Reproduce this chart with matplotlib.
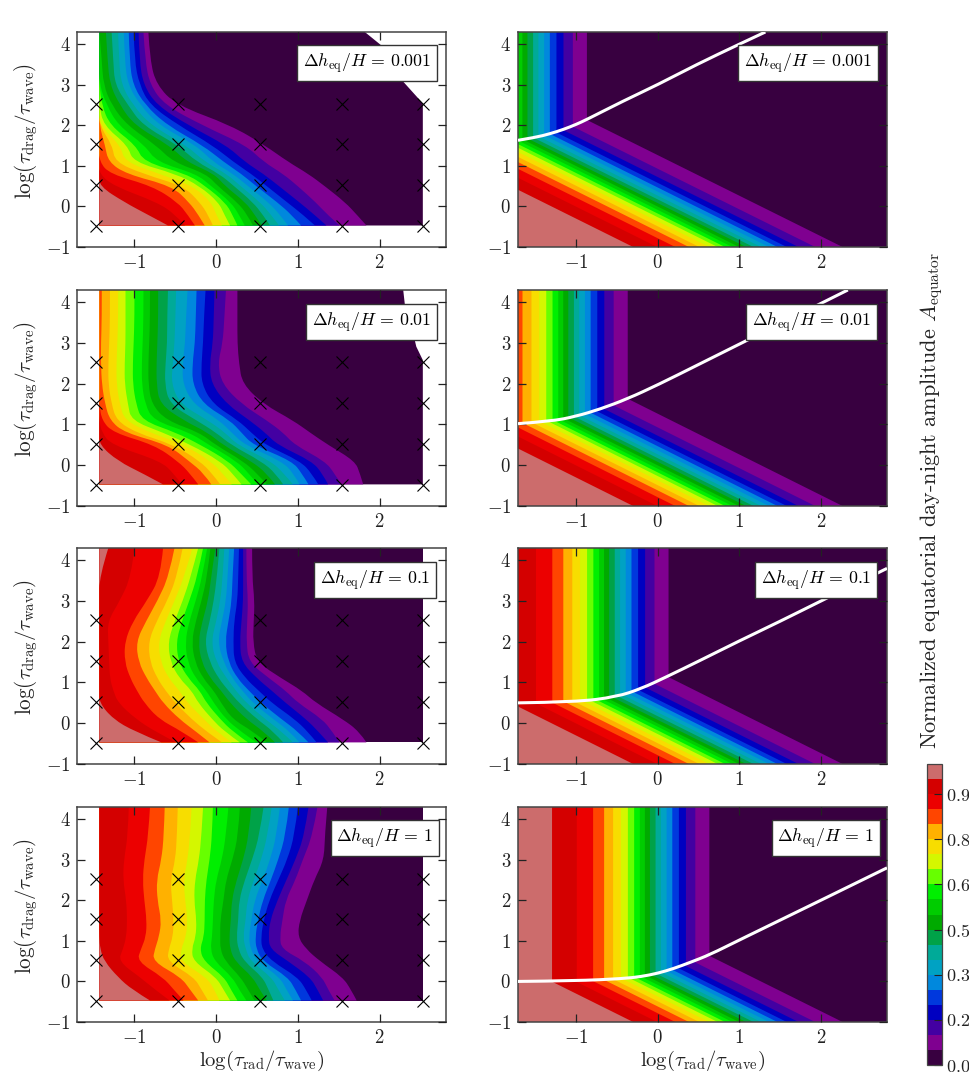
import numpy as np
import matplotlib
matplotlib.use('Agg')
import matplotlib.pyplot as plt
from matplotlib.cm import ScalarMappable
from matplotlib.colors import ListedColormap, BoundaryNorm
from matplotlib.path import Path
from matplotlib.patches import PathPatch

plt.rcParams['mathtext.fontset'] = 'cm'
plt.rcParams['font.family'] = 'cmr10'
plt.rcParams['axes.unicode_minus'] = False

W, H = 969, 1076

# contour levels of the amplitude, 20 bands
levels = np.arange(0, 1.0001, 0.05)
band_colors = [plt.cm.nipy_spectral((i + 0.5) / 20) for i in range(20)]

panel_labels = ['0.001', '0.01', '0.1', '1']
xticks = [-1, 0, 1, 2]
yticks = [-1, 0, 1, 2, 3, 4]
cbar_ticks = [0.0, 0.15, 0.3, 0.45, 0.6, 0.75, 0.9]
cbar_ticklabels = ['0.0', '0.2', '0.3', '0.5', '0.6', '0.8', '0.9']

# simulation grid (crosses)
sim_x = [-1.47, -0.465, 0.535, 1.535, 2.535]
sim_y = [-0.48, 0.53, 1.53, 2.53]

# left column: x of each level line (0.05 first, 0.95 last) along these rows
rows_y = [-0.47, -0.2, 0.1, 0.5, 0.8, 1.1, 1.5, 2.0, 2.5, 3.0, 3.6, 4.3]

left_0 = [
    [1.84, 1.51, 1.35, 1.21, 1.04, .88, .77, .66, .56, .45, .35, .26, .17, .07, -.04, -.14, -.26, -.38, -.59],
    [1.72, 1.36, 1.2, 1.06, .92, .78, .67, .57, .47, .38, .28, .2, .1, 0, -.1, -.22, -.35, -.5, -.84],
    [1.58, 1.22, 1.02, .87, .75, .64, .54, .45, .36, .26, .18, .11, .03, -.06, -.2, -.33, -.47, -.72, -1.12],
    [1.33, 1.0, .77, .62, .49, .39, .3, .22, .11, .02, -.06, -.13, -.2, -.28, -.4, -.54, -.78, -1.25, -1.43],
    [1.13, .82, .58, .43, .31, .21, .13, .04, -.02, -.12, -.24, -.36, -.49, -.69, -.89, -1.1, -1.3, -1.43, -1.43],
    [.88, .58, .35, .21, .09, -.04, -.14, -.24, -.36, -.53, -.73, -.89, -1.02, -1.12, -1.24, -1.32, -1.43, -1.43, -1.43],
    [.6, .37, .13, -.04, -.16, -.24, -.36, -.46, -.57, -.73, -.87, -.98, -1.08, -1.17, -1.27, -1.36, -1.43, -1.43, -1.43],
    [.18, -.17, -.34, -.46, -.6, -.7, -.8, -.9, -1.0, -1.09, -1.2, -1.3, -1.38, -1.43, -1.43, -1.43, -1.43, -1.43, -1.43],
    [-.49, -.63, -.73, -.81, -.87, -.93, -1.02, -1.08, -1.18, -1.28, -1.34, -1.4, -1.43, -1.43, -1.43, -1.43, -1.43, -1.43, -1.43],
    [-.73, -.81, -.89, -.94, -1.02, -1.08, -1.16, -1.24, -1.3, -1.38, -1.43, -1.43, -1.43, -1.43, -1.43, -1.43, -1.43, -1.43, -1.43],
    [-.81, -.87, -.94, -1.0, -1.06, -1.12, -1.19, -1.26, -1.33, -1.4, -1.43, -1.43, -1.43, -1.43, -1.43, -1.43, -1.43, -1.43, -1.43],
    [-.83, -.89, -.95, -1.01, -1.07, -1.13, -1.2, -1.28, -1.35, -1.43, -1.43, -1.43, -1.43, -1.43, -1.43, -1.43, -1.43, -1.43, -1.43],
]
left_1 = [
    [1.8, 1.53, 1.37, 1.25, 1.13, 1.02, .94, .82, .72, .62, .51, .43, .31, .19, .05, -.06, -.22, -.42, -.65],
    [1.76, 1.45, 1.3, 1.17, 1.05, .95, .83, .73, .62, .5, .4, .3, .2, .08, -.05, -.15, -.32, -.52, -.9],
    [1.7, 1.33, 1.17, 1.03, .93, .8, .67, .55, .43, .33, .25, .15, .05, -.07, -.2, -.33, -.47, -.68, -1.2],
    [1.37, .96, .75, .6, .45, .35, .26, .18, .08, -.01, -.09, -.19, -.31, -.39, -.52, -.59, -.76, -1.28, -1.43],
    [1.15, .82, .6, .43, .31, .19, .11, 0, -.1, -.2, -.32, -.49, -.65, -.81, -.98, -1.12, -1.26, -1.4, -1.43],
    [.94, .62, .41, .27, .17, .04, -.1, -.24, -.4, -.61, -.77, -.91, -1.04, -1.12, -1.22, -1.3, -1.4, -1.43, -1.43],
    [.58, .31, .13, -.04, -.16, -.28, -.44, -.57, -.69, -.79, -.87, -.98, -1.08, -1.18, -1.28, -1.36, -1.43, -1.43, -1.43],
    [.32, .07, -.06, -.18, -.29, -.41, -.55, -.63, -.73, -.83, -.91, -1.02, -1.12, -1.22, -1.32, -1.4, -1.43, -1.43, -1.43],
    [.28, .02, -.08, -.18, -.29, -.41, -.53, -.62, -.73, -.83, -.91, -1.02, -1.12, -1.22, -1.32, -1.41, -1.43, -1.43, -1.43],
    [.26, .08, -.04, -.16, -.26, -.38, -.51, -.6, -.72, -.82, -.9, -1.01, -1.11, -1.21, -1.31, -1.41, -1.43, -1.43, -1.43],
    [.26, .1, -.03, -.15, -.25, -.37, -.5, -.6, -.71, -.81, -.89, -1.0, -1.11, -1.2, -1.3, -1.4, -1.43, -1.43, -1.43],
    [.26, .12, -.02, -.13, -.24, -.35, -.49, -.59, -.71, -.81, -.89, -1.0, -1.11, -1.2, -1.3, -1.4, -1.43, -1.43, -1.43],
]
left_2 = [
    [1.84, 1.51, 1.37, 1.23, 1.13, 1.02, .94, .82, .72, .62, .49, .39, .29, .19, .07, -.08, -.22, -.49, -.67],
    [1.75, 1.42, 1.25, 1.12, 1.0, .9, .8, .7, .58, .45, .3, .2, .1, 0, -.12, -.25, -.42, -.75, -1.0],
    [1.55, 1.3, 1.1, .96, .8, .7, .6, .5, .37, .2, .12, .05, -.05, -.15, -.3, -.45, -.7, -.98, -1.26],
    [1.22, 1.0, .85, .68, .55, .45, .37, .28, .17, .06, -.03, -.12, -.22, -.35, -.5, -.65, -.88, -1.2, -1.43],
    [1.05, .85, .68, .52, .4, .32, .24, .15, .06, -.03, -.12, -.2, -.3, -.45, -.62, -.75, -.97, -1.26, -1.43],
    [.8, .65, .5, .36, .26, .2, .13, .03, -.07, -.16, -.25, -.34, -.45, -.58, -.72, -.85, -1.05, -1.3, -1.43],
    [.5, .4, .31, .22, .15, .09, 0, -.08, -.18, -.26, -.35, -.46, -.56, -.68, -.81, -.95, -1.12, -1.31, -1.43],
    [.45, .37, .29, .21, .11, .02, -.06, -.14, -.22, -.3, -.38, -.49, -.59, -.71, -.83, -.98, -1.12, -1.32, -1.43],
    [.46, .38, .31, .22, .15, .07, 0, -.08, -.17, -.25, -.33, -.42, -.51, -.62, -.73, -.86, -1.02, -1.33, -1.43],
    [.47, .39, .33, .26, .19, .12, .05, -.03, -.1, -.18, -.25, -.33, -.41, -.51, -.6, -.72, -.85, -1.18, -1.43],
    [.44, .37, .33, .27, .2, .14, .08, .01, -.06, -.11, -.17, -.23, -.31, -.39, -.48, -.58, -.68, -1.04, -1.43],
    [.44, .37, .33, .28, .22, .16, .1, .04, -.01, -.07, -.11, -.16, -.22, -.29, -.41, -.51, -.65, -1.0, -1.32],
]
left_3 = [
    [1.72, 1.45, 1.31, 1.17, 1.04, .94, .84, .7, .62, .47, .37, .26, .17, .04, -.1, -.22, -.4, -.57, -.81],
    [1.65, 1.37, 1.24, 1.1, .97, .86, .76, .64, .53, .39, .28, .18, .09, -.02, -.18, -.32, -.52, -.75, -1.03],
    [1.55, 1.3, 1.15, 1.0, .88, .78, .68, .57, .45, .3, .2, .1, 0, -.12, -.27, -.43, -.65, -.93, -1.2],
    [1.27, 1.08, .88, .68, .57, .5, .42, .34, .23, .11, -.02, -.15, -.28, -.44, -.6, -.78, -.97, -1.2, -1.37],
    [1.1, .8, .66, .56, .49, .42, .36, .27, .17, .05, -.07, -.2, -.3, -.43, -.58, -.75, -.92, -1.14, -1.42],
    [1.0, .78, .64, .55, .48, .4, .33, .25, .16, .05, -.05, -.15, -.25, -.37, -.53, -.7, -.86, -1.1, -1.43],
    [1.02, .81, .66, .58, .51, .43, .36, .27, .18, .05, -.04, -.14, -.24, -.35, -.52, -.67, -.85, -1.09, -1.43],
    [1.11, .85, .75, .65, .57, .47, .38, .28, .19, .09, -.03, -.14, -.27, -.38, -.54, -.72, -.88, -1.1, -1.43],
    [1.2, .97, .86, .76, .67, .57, .46, .35, .25, .12, 0, -.12, -.26, -.4, -.56, -.73, -.9, -1.14, -1.43],
    [1.32, 1.06, .97, .87, .76, .66, .55, .44, .33, .2, .07, -.08, -.21, -.35, -.5, -.67, -.88, -1.13, -1.43],
    [1.33, 1.18, 1.08, .96, .85, .74, .63, .53, .4, .27, .12, -.05, -.18, -.32, -.48, -.64, -.83, -1.08, -1.43],
    [1.36, 1.24, 1.13, 1.0, .89, .78, .68, .58, .43, .29, .15, -.04, -.16, -.3, -.47, -.63, -.81, -1.07, -1.43],
]
left_tables = [left_0, left_1, left_2, left_3]

# right end of the simulated domain (white notch in the two upper panels)
edge_y = [[-0.47, 2.54, 3.12, 3.94, 4.3], [-0.47, 2.58, 2.91, 3.08, 3.94, 4.3], [-0.47, 4.3], [-0.47, 4.3]]
edge_x = [[2.53, 2.53, 2.27, 2.04, 1.82], [2.53, 2.53, 2.45, 2.43, 2.31, 2.29], [2.53, 2.53], [2.53, 2.53]]

# right column: level lines at the bottom axis and in the vertical part on top
bottom_x = [2.266, 1.93, 1.726, 1.583, 1.468, 1.366, 1.268, 1.174, 1.084, .998,
            .916, .826, .736, .63, .511, .384, .217, -.004, -.299]
top_x_0 = [-.866, -1.038, -1.153, -1.239, -1.32, -1.39, -1.46, -1.525, -1.594, -1.656,
           -1.717, -1.787, -1.864, -1.95, -2.045, -2.155, -2.29, -2.49, -2.793]
top_x_1 = [-.366, -.538, -.653, -.739, -.82, -.89, -.96, -1.025, -1.094, -1.156,
           -1.217, -1.287, -1.364, -1.45, -1.545, -1.655, -1.79, -1.99, -2.293]
top_x_2 = [.134, -.038, -.153, -.239, -.32, -.39, -.46, -.525, -.594, -.656,
           -.717, -.787, -.864, -.95, -1.045, -1.155, -1.29, -1.49, -1.793]
top_x_3 = [.634, .462, .347, .261, .18, .11, .04, -.025, -.094, -.156,
           -.217, -.287, -.364, -.45, -.545, -.655, -.79, -.99, -1.293]
top_tables = [top_x_0, top_x_1, top_x_2, top_x_3]

# white curve in the right column
white_x = [
    [-1.71, -1.5, -1.32, -1.15, -1, -.87, -.42, 0, .48, 1, 1.32],
    [-1.71, -1.3, -1, -.7, -.37, 0, .5, 1, 1.5, 2, 2.33],
    [-1.71, -1, -.5, -.2, .1, .5, 1, 1.5, 2, 2.81],
    [-1.71, -1, -.42, -.2, 0, .2, .4, .64, 1, 2, 2.81],
]
white_y = [
    [1.63, 1.7, 1.79, 1.9, 2.02, 2.14, 2.6, 3.0, 3.5, 4.0, 4.3],
    [1.02, 1.08, 1.2, 1.38, 1.63, 1.97, 2.47, 2.97, 3.47, 3.97, 4.3],
    [.5, .52, .65, .85, 1.13, 1.52, 2.02, 2.5, 3.0, 3.8],
    [0, .015, .07, .12, .2, .32, .47, .66, 1.02, 2.0, 2.8],
]

left_tops = [32, 290, 548, 807]
left_bottoms = [247, 506, 764, 1022]
label_right = [[437, 437, 436, 439], [878, 877, 877, 880]]
label_mid = [63, 322, 580, 838]


def px_axes(x0, x1, y0, y1):
    return fig.add_axes([x0 / W, 1 - y1 / H, (x1 - x0) / W, (y1 - y0) / H])


def smooth_path(xs, ys, lead=(), trail=()):
    # quadratic path with the read points as control points, lead/trail are straight parts
    p = np.column_stack([xs, ys])
    verts = list(lead) + [p[0]]
    codes = [Path.MOVETO] + [Path.LINETO] * len(lead)
    for j in range(1, len(p) - 1):
        end = p[j + 1] if j == len(p) - 2 else (p[j] + p[j + 1]) / 2
        verts += [p[j], end]
        codes += [Path.CURVE3, Path.CURVE3]
    for t in trail:
        verts.append(t)
        codes.append(Path.LINETO)
    return Path(verts, codes)


def style_axes(ax, xlim):
    ax.set_xlim(xlim)
    ax.set_ylim(-1, 4.3)
    ax.set_xticks(xticks)
    ax.set_yticks(yticks)
    ax.set_xticklabels(['$%d$' % t for t in xticks])
    ax.set_yticklabels(['$%d$' % t for t in yticks])
    ax.tick_params(direction='in', top=True, right=True, length=6, width=0.9,
                   labelsize=13.5, colors='#222222', pad=5)
    ax.set_axisbelow(False)
    for s in ax.spines.values():
        s.set_linewidth(1.1)
        s.set_color('#444444')


def add_label(ax, text, xr, ymid, bottom, top, x0, x1):
    ax.text((xr - 6 - x0) / (x1 - x0), (bottom - ymid) / (bottom - top),
            r'$\Delta h_{\rm eq}/H\,=\,%s$' % text, transform=ax.transAxes,
            ha='right', va='center', fontsize=12.8, zorder=8,
            bbox=dict(boxstyle='square,pad=0.32', fc='white', ec='#333333', lw=1.0))


def add_xlabel(ax):
    ax.set_xlabel(r'$\log(\tau_{\rm rad}/\tau_{\rm wave})$', fontsize=14.8, color='#222222')
    ax.xaxis.set_label_coords(0.5, -0.125)


fig = plt.figure(figsize=(W / 100, H / 100), dpi=100)

for i in range(4):
    # left column, model grid
    ax = px_axes(77.3, 445.7, left_tops[i], left_bottoms[i])
    table = np.array(left_tables[i])
    ax.fill(np.r_[-1.43, edge_x[i], -1.43], np.r_[-0.47, edge_y[i], 4.3], color=band_colors[0], lw=0)
    for k in range(19):
        path = smooth_path(table[:, k], rows_y, lead=[(-1.43, rows_y[0])],
                           trail=[(-1.43, rows_y[-1]), (-1.43, rows_y[0])])
        ax.add_patch(PathPatch(path, fc=band_colors[k + 1], ec='none', lw=0))
    ax.plot(np.repeat(sim_x, len(sim_y)), np.tile(sim_y, len(sim_x)), 'x', color='k',
            ms=8.5, mew=0.8, clip_on=False, zorder=6)
    style_axes(ax, (-1.70, 2.81))
    ax.set_ylabel(r'$\log(\tau_{\rm drag}/\tau_{\rm wave})$', fontsize=15.2, color='#222222')
    ax.yaxis.set_label_coords(-0.10, 0.54)
    add_label(ax, panel_labels[i], label_right[0][i], label_mid[i], left_bottoms[i], left_tops[i], 77.3, 445.7)
    if i == 3:
        add_xlabel(ax)

    # right column, analytic model
    ax = px_axes(518, 887, left_tops[i], left_bottoms[i])
    ax.set_facecolor(band_colors[0])
    for k in range(19):
        xb = bottom_x[k]
        xt = top_tables[i][k]
        yk = -1 + (xb - xt)
        ax.fill([-4, xb, xt, xt, -4], [-1, -1, yk, 4.3, 4.3], color=band_colors[k + 1], lw=0)
    ax.add_patch(PathPatch(smooth_path(white_x[i], white_y[i]), fc='none', ec='white', lw=2.2, zorder=5))
    style_axes(ax, (-1.71, 2.81))
    add_label(ax, panel_labels[i], label_right[1][i], label_mid[i], left_bottoms[i], left_tops[i], 518, 887)
    if i == 3:
        add_xlabel(ax)

# colorbar
cax = px_axes(927, 942, 764, 1065)
norm = BoundaryNorm(levels, 20)
sm = ScalarMappable(norm=norm, cmap=ListedColormap(band_colors))
cb = fig.colorbar(sm, cax=cax, spacing='proportional', ticks=cbar_ticks)
cb.set_ticklabels(['$%s$' % t for t in cbar_ticklabels])
cb.ax.tick_params(labelsize=13, direction='in', length=6, width=0.8, colors='#222222', pad=3)
cb.outline.set_edgecolor('#444444')
cb.outline.set_linewidth(0.9)
cb.ax.minorticks_off()

fig.text(932 / W, 1 - 500 / H, r'Normalized equatorial day-night amplitude $A_{\rm equator}$',
         rotation=90, ha='center', va='center', fontsize=16, color='#222222')

fig.savefig('out.png', dpi=100)
